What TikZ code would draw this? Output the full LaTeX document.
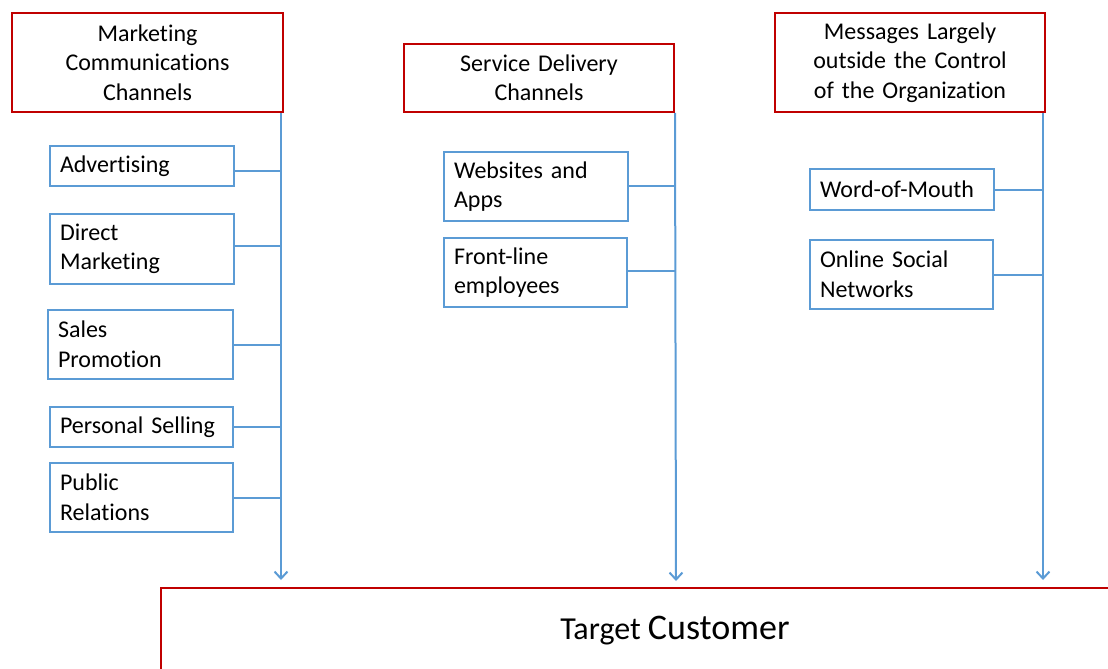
\documentclass[tikz,border=0pt]{standalone}
\usepackage{fontspec}
\setmainfont{Carlito}[Ligatures=NoCommon]
\usetikzlibrary{arrows.meta}
\definecolor{hdred}{HTML}{C00000}
\definecolor{chblue}{HTML}{5B9BD5}
\begin{document}
\begin{tikzpicture}[x=1pt,y=-1pt,
  redbox/.style={draw=hdred, line width=2pt, fill=white, align=center, inner sep=0pt,
    font=\fontsize{24}{29.5}\selectfont, anchor=north west},
  bluebox/.style={draw=chblue, line width=2pt, fill=white, align=left, inner xsep=10pt, inner ysep=0pt,
    font=\fontsize{24}{29.5}\selectfont, anchor=north west},
  conn/.style={draw=chblue, line width=2pt},
  arr/.style={conn, -{Straight Barb[length=7pt,width=13pt,line width=2pt]}}]
\useasboundingbox (0,0) rectangle (1108,669);
\clip (0,0) rectangle (1108,669);
% headers
\node[redbox, minimum width=271, minimum height=99, text width=271] (h1) at (11,12)
  {Marketing\\Communications\\Channels};
\node[redbox, minimum width=270, minimum height=68, text width=270] (h2) at (403,43)
  {Service Delivery\\Channels};
\node[redbox, minimum width=270, minimum height=99, text width=270] (h3) at (774,12)
  {Messages Largely\\outside the Control\\of the Organization};
% column 1 items
\node[bluebox, minimum width=184, minimum height=40, text width=164] (adv) at (49,145) {Advertising};
\node[bluebox, minimum width=184, minimum height=70, text width=164] (dm) at (49,213) {Direct\\Marketing};
\node[bluebox, minimum width=185, minimum height=69, text width=165] (sp) at (47,309) {Sales\\Promotion};
\node[bluebox, minimum width=183, minimum height=40, text width=163] (ps) at (49,406) {Personal Selling};
\node[bluebox, minimum width=183, minimum height=69, text width=163] (pr) at (49,462) {Public\\Relations};
% column 2 items
\node[bluebox, minimum width=184, minimum height=69, text width=164] (web) at (443,151) {Websites and\\Apps};
\node[bluebox, minimum width=183, minimum height=69, text width=163] (fl) at (443,237) {Front-line\\employees};
% column 3 items
\node[bluebox, minimum width=184, minimum height=41, text width=164] (wom) at (809,168) {Word-of-Mouth};
\node[bluebox, minimum width=183, minimum height=69, text width=163] (osn) at (809,239) {Online Social\\Networks};
% target customer
\node[draw=hdred, line width=2pt, fill=white, anchor=north west, minimum width=1028, minimum height=86, inner sep=0pt] (tc) at (160,587)
  {{\fontsize{32}{38}\selectfont Target~}{\fontsize{36}{42}\selectfont Customer}};
% arrow end points
\coordinate (a1) at (281,580);
\coordinate (a2) at (676,581);
\coordinate (a3) at (1043,580);
% vertical trunks
\draw[arr] (h1.south -| a1) -- (a1);
\draw[arr] (h2.south east) -- (a2);
\draw[arr] (h3.south -| a3) -- (a3);
% branches
\draw[conn] ([yshift=-5pt]adv.east) -- ([yshift=-5pt]adv.east -| a1);
\draw[conn] ([yshift=3pt]dm.east) -- ([yshift=3pt]dm.east -| a1);
\draw[conn] (sp.east) -- (sp.east -| a1);
\draw[conn] (ps.east) -- (ps.east -| a1);
\draw[conn] (pr.east) -- (pr.east -| a1);
\draw[conn] ([yshift=1pt]web.east) -- ([yshift=1pt]web.east -| h2.east);
\draw[conn] ([yshift=2pt]fl.east) -- ([yshift=2pt]fl.east -| h2.east);
\draw[conn] (wom.east) -- (wom.east -| a3);
\draw[conn] (osn.east) -- (osn.east -| a3);
\end{tikzpicture}
\end{document}
